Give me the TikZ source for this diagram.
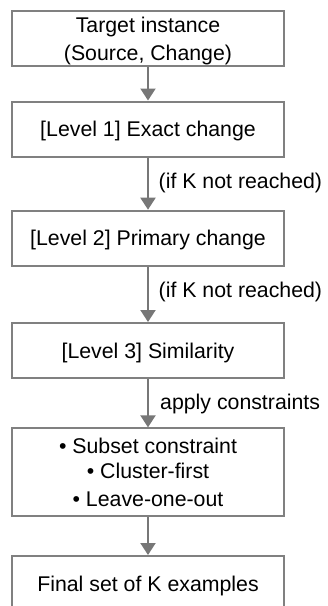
\documentclass[tikz,border=0pt]{standalone}
\usepackage{fontspec}
\setmainfont{Liberation Sans}
\usetikzlibrary{arrows.meta}
\definecolor{boxgray}{HTML}{808080}
\definecolor{arrgray}{HTML}{777777}
\begin{document}
\begin{tikzpicture}[x=1pt,y=-1pt,
  box/.style={draw=boxgray, line width=2pt, minimum width=272pt, minimum height=55pt,
    inner sep=0pt, align=center, font=\fontsize{21.3}{28.3}\selectfont, text depth=0pt},
  flow/.style={draw=arrgray, line width=2pt, -{Triangle[length=12pt,width=15pt]}},
  lbl/.style={anchor=base west, inner sep=0pt, font=\fontsize{21.3}{25}\selectfont}]
\useasboundingbox (0,0) rectangle (328,606);
\node[box] (b1) at (148,38.5) {Target instance\\(Source, Change)};
\node[box, text height=15pt] (b2) at (148,129) {[Level 1] Exact change};
\node[box, text height=15pt] (b3) at (148,238.2) {[Level 2] Primary change};
\node[box, text height=15pt] (b4) at (148,350.5) {[Level 3] Similarity};
\node[box, minimum height=87.7pt] (b5) at (148,472.2)
  {\textbullet\ Subset constraint\\[-3.3pt]\textbullet\ Cluster-first\\\textbullet\ Leave-one-out};
\node[box, text height=15pt] (b6) at (148,583.5) {Final set of K examples};
\draw[flow] (b1) -- (b2);
\draw[flow] (b2) -- (b3);
\draw[flow] (b3) -- (b4);
\draw[flow] (b4) -- (b5);
\draw[flow] (b5) -- (b6);
\node[lbl] (l1) at (158.5,188) {(if K not reached)};
\node[lbl] (l2) at (158.5,297) {(if K not reached)};
\node[lbl] (l3) at (160,409) {apply constraints};
\end{tikzpicture}
\end{document}
